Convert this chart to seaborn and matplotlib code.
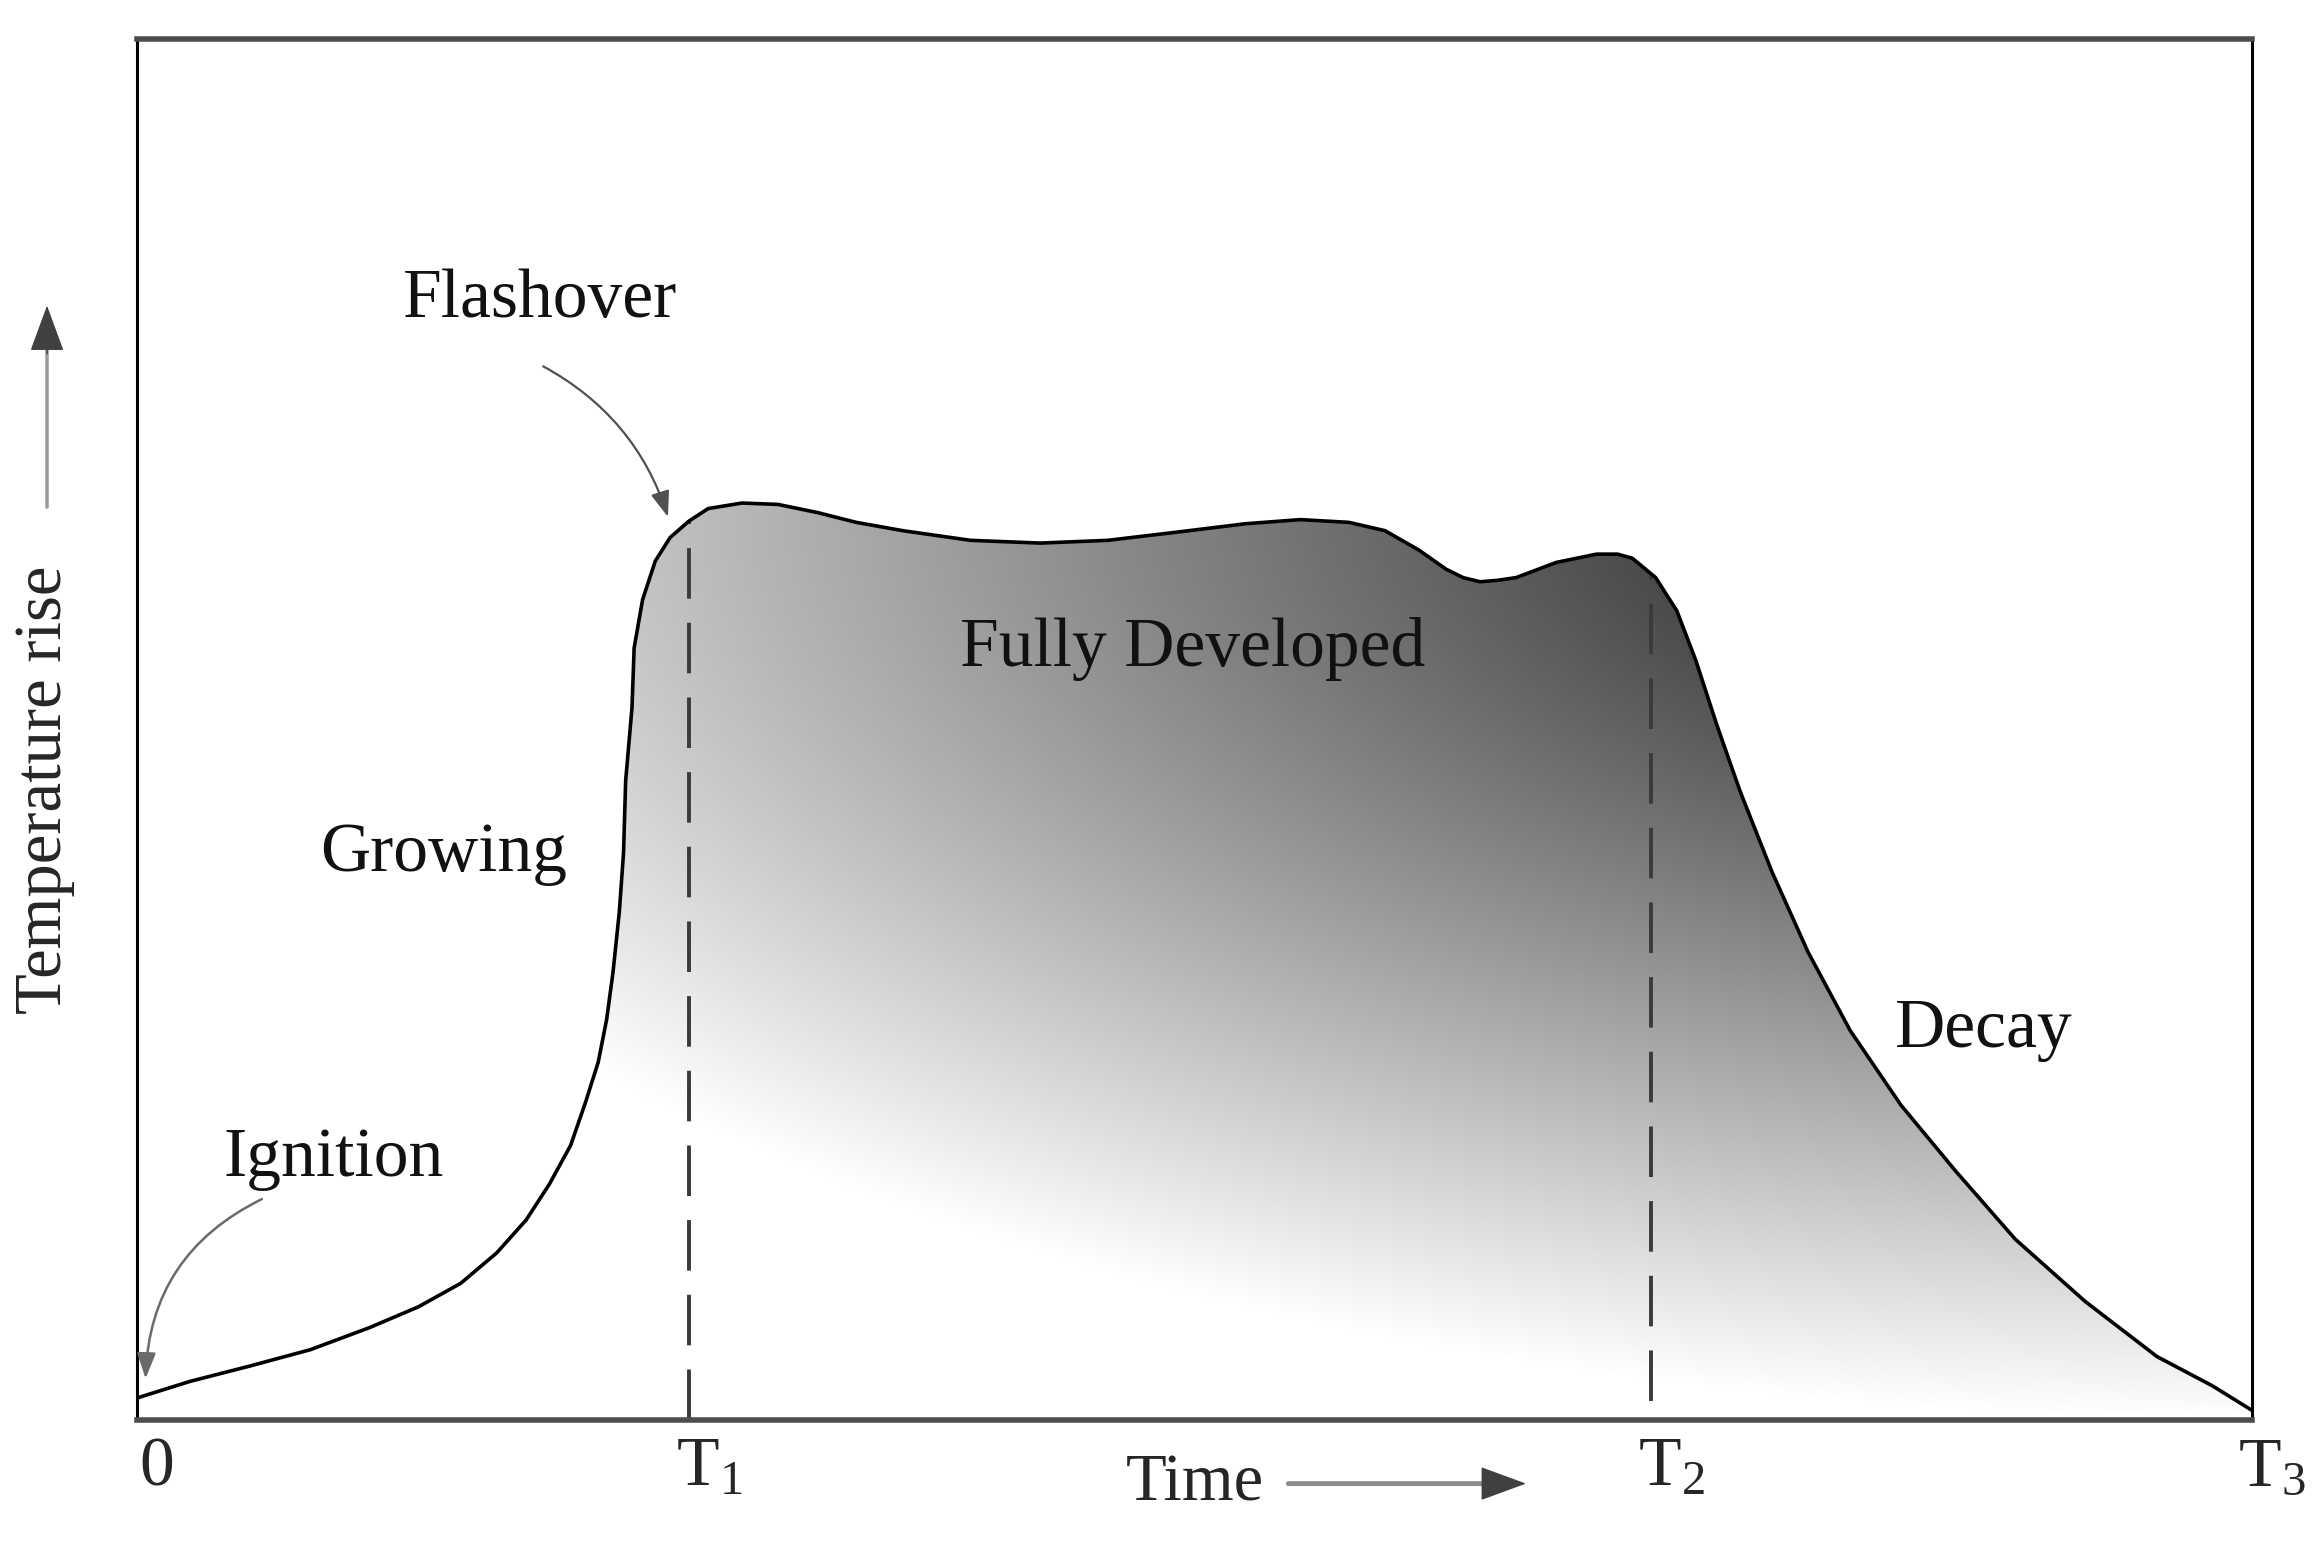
import numpy as np
import pandas as pd
import matplotlib
matplotlib.use("Agg")
import matplotlib.pyplot as plt
import matplotlib.transforms as mtransforms
import seaborn as sns

# curve (time in 0..10 = 0..T3, temperature in 0..100 of the frame)
time = [0.00, 0.25, 0.53, 0.82, 1.10, 1.33, 1.53, 1.70, 1.84, 1.95, 2.05, 2.12, 2.18,
        2.22, 2.25, 2.28, 2.30, 2.31, 2.34, 2.35, 2.39, 2.45, 2.52, 2.61, 2.70, 2.86,
        3.03, 3.22, 3.40, 3.62, 3.94, 4.27, 4.59, 4.92, 5.24, 5.50, 5.73, 5.90, 6.06,
        6.19, 6.27, 6.35, 6.43, 6.52, 6.71, 6.90, 7.00, 7.07, 7.18, 7.28, 7.37, 7.47,
        7.58, 7.73, 7.90, 8.10, 8.34, 8.60, 8.88, 9.21, 9.55, 9.81, 10.00]
temp = [1.6, 2.8, 3.9, 5.1, 6.7, 8.2, 9.9, 12.1, 14.5, 17.1, 19.9, 23.0, 25.9,
        29.0, 32.4, 36.8, 41.1, 46.3, 51.6, 55.9, 59.4, 62.2, 63.9, 65.1, 66.0, 66.4,
        66.3, 65.7, 65.0, 64.4, 63.7, 63.5, 63.7, 64.3, 64.9, 65.2, 65.0, 64.4, 63.0,
        61.6, 61.0, 60.7, 60.8, 61.0, 62.1, 62.7, 62.7, 62.4, 61.0, 58.6, 55.0, 50.3,
        45.5, 39.7, 33.9, 28.2, 22.8, 18.0, 13.1, 8.6, 4.6, 2.5, 0.7]

# phase boundaries (dashed lines)
phase_t = [2.61, 7.16]
phase_top = [65.1, 61.3]
phase_bottom = [0.0, 1.4]

tick_pos = [0, 2.61, 7.16, 10]
tick_labels = ["0", r"$\mathregular{T_1}$", r"$\mathregular{T_2}$", r"$\mathregular{T_3}$"]

phase_names = ["Growing", "Fully Developed", "Decay"]
phase_xy = [(1.45, 41.0), (4.99, 55.8), (8.73, 28.2)]

df = pd.DataFrame({"time": time, "temp": temp})

sns.set_theme(style="white")
plt.rcParams["font.family"] = ["Liberation Serif", "DejaVu Serif"]
plt.rcParams["mathtext.fontset"] = "stix"

fig = plt.figure(figsize=(23.16, 15.60), dpi=100)
ax = fig.add_axes([0.0592, 0.0897, 0.9132, 0.8853])

# radial (elliptic) gradient, dark at upper right of the shape, white towards lower left
gx = np.linspace(0, 10, 500)
gy = np.linspace(0, 66.5, 400)
GX, GY = np.meshgrid(gx, gy)
r = np.sqrt(((GX - 10) / 10) ** 2 + ((GY - 66.5) / 66.5) ** 2)
shade = np.clip(r, 0, 1)

poly = ax.fill_between(df["time"], df["temp"], 0, color="none", lw=0)
im = ax.imshow(shade, extent=[0, 10, 0, 66.5], origin="lower", cmap="gray",
               vmin=0, vmax=1, aspect="auto", zorder=1, interpolation="bilinear")
im.set_clip_path(poly.get_paths()[0], transform=ax.transData)

sns.lineplot(data=df, x="time", y="temp", sort=False, color="black", lw=2.6,
             ax=ax, zorder=3)

ax.vlines(phase_t, phase_bottom, phase_top, colors="#3a3a3a", lw=2.8,
          linestyles=(0, (13, 6.2)), zorder=2)

ax.set_xlim(0, 10)
ax.set_ylim(0, 100)
ax.set_xticks(tick_pos)
ax.set_xticklabels(tick_labels, fontsize=50)
ax.set_yticks([])
ax.tick_params(axis="x", length=0, pad=12)
shift = mtransforms.ScaledTranslation(0.2, 0, fig.dpi_scale_trans)
for lab in ax.get_xticklabels():
    lab.set_transform(lab.get_transform() + shift)

for side in ["top", "bottom"]:
    ax.spines[side].set_linewidth(4.0)
    ax.spines[side].set_color("#4d4d4d")
for side in ["left", "right"]:
    ax.spines[side].set_linewidth(2.2)
    ax.spines[side].set_color("black")

ax.set_xlabel("Time", fontsize=48, va="center")
ax.xaxis.set_label_coords(0.5, -0.046)
ax.set_ylabel("Temperature rise", fontsize=48, va="center")
ax.yaxis.set_label_coords(-0.044, 0.456)

# axis arrows
ax.annotate("", xy=(6.50, -0.046), xytext=(5.43, -0.046),
            xycoords=ax.get_xaxis_transform(), textcoords=ax.get_xaxis_transform(),
            arrowprops=dict(arrowstyle="-", color="#8c8c8c", lw=3.5), annotation_clip=False)
ax.annotate("", xy=(6.58, -0.046), xytext=(6.40, -0.046),
            xycoords=ax.get_xaxis_transform(), textcoords=ax.get_xaxis_transform(),
            arrowprops=dict(arrowstyle="-|>,head_length=0.6,head_width=0.22",
                            color="#404040", lw=1, mutation_scale=50),
            annotation_clip=False)
ax.annotate("", xy=(-0.0426, 0.78), xytext=(-0.0426, 0.659),
            xycoords="axes fraction",
            arrowprops=dict(arrowstyle="-", color="#9a9a9a", lw=2.5), annotation_clip=False)
ax.annotate("", xy=(-0.0426, 0.809), xytext=(-0.0426, 0.77),
            xycoords="axes fraction",
            arrowprops=dict(arrowstyle="-|>,head_length=0.6,head_width=0.22",
                            color="#404040", lw=1, mutation_scale=50),
            annotation_clip=False)

# labels with arrows
ax.text(1.905, 81.1, "Flashover", fontsize=50, ha="center", va="center", color="#111111")
ax.annotate("", xy=(2.51, 65.4), xytext=(1.92, 76.3),
            arrowprops=dict(arrowstyle="-|>,head_length=0.6,head_width=0.22",
                            color="#505050", lw=1.6, mutation_scale=26,
                            connectionstyle="arc3,rad=-0.2", shrinkA=0, shrinkB=0))
ax.text(0.93, 18.9, "Ignition", fontsize=50, ha="center", va="center", color="#111111")
ax.annotate("", xy=(0.04, 3.0), xytext=(0.59, 16.0),
            arrowprops=dict(arrowstyle="-|>,head_length=0.6,head_width=0.22",
                            color="#6a6a6a", lw=1.8, mutation_scale=26,
                            connectionstyle="arc3,rad=0.3", shrinkA=0, shrinkB=0))

for name, (x, y) in zip(phase_names, phase_xy):
    ax.text(x, y, name, fontsize=50, ha="center", va="center", color="#111111", zorder=4)

fig.savefig("out.png", dpi=100)
